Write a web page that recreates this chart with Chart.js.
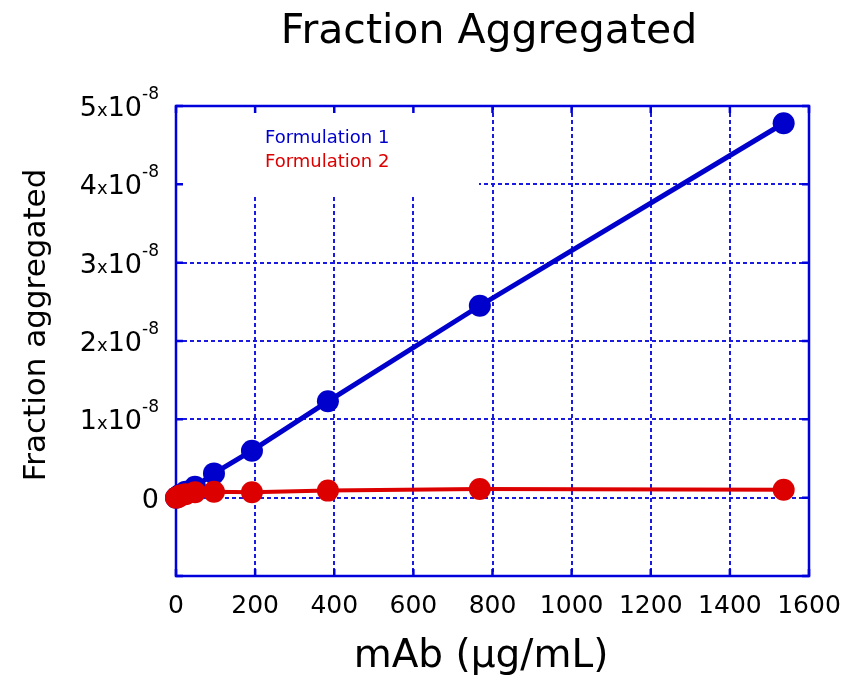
<!DOCTYPE html>
<html>
<head>
<meta charset="utf-8">
<title>Fraction Aggregated</title>
<script src="https://cdn.jsdelivr.net/npm/chart.js@4.4.1/dist/chart.umd.min.js"></script>
<style>
  html, body { margin: 0; padding: 0; background: #fff; }
  #wrap { width: 862px; height: 677px; }
</style>
</head>
<body>
<div id="wrap"><canvas id="fractionChart" width="862" height="677"></canvas></div>
<script>
// mAb concentration (µg/mL) and fraction aggregated
const mabConc = [0, 6, 12, 24, 48, 96, 192, 384, 768, 1536];
const formulation1 = [0, 0.02e-8, 0.04e-8, 0.075e-8, 0.14e-8, 0.31e-8, 0.60e-8, 1.23e-8, 2.45e-8, 4.78e-8];
const formulation2 = [0, 0.01e-8, 0.03e-8, 0.045e-8, 0.07e-8, 0.075e-8, 0.07e-8, 0.09e-8, 0.11e-8, 0.10e-8];
const seriesNames = ['Formulation 1', 'Formulation 2'];
const xRange = [0, 1600];
const yRange = [-1e-8, 5e-8];
const yExponent = -8;

const BLUE = '#0000cc';
const RED = '#dd0000';
const GRID = '#1a1ae0';
const FONT = "'DejaVu Sans', Verdana, sans-serif";

function toPoints(xs, ys) {
    return xs.map((x, i) => ({ x: x, y: ys[i] }));
}

// frame, inner ticks and the white box behind the legend text
const framePlugin = {
    id: 'frame',
    beforeDatasetsDraw(chart) {
        const ctx = chart.ctx;
        const a = chart.chartArea;
        const xs = chart.scales.x;
        const ys = chart.scales.y;
        ctx.save();
        ctx.fillStyle = '#fff';
        ctx.fillRect(a.left + 1, a.top + 1, 302, 87);

        ctx.strokeStyle = '#0000dd';
        ctx.lineWidth = 2.5;
        ctx.beginPath();
        xs.ticks.forEach(t => {
            const px = xs.getPixelForValue(t.value);
            ctx.moveTo(px, a.bottom); ctx.lineTo(px, a.bottom - 7);
            ctx.moveTo(px, a.top); ctx.lineTo(px, a.top + 7);
        });
        ys.ticks.forEach(t => {
            const py = ys.getPixelForValue(t.value);
            ctx.moveTo(a.left, py); ctx.lineTo(a.left + 7, py);
            ctx.moveTo(a.right, py); ctx.lineTo(a.right - 7, py);
        });
        ctx.stroke();
        ctx.strokeRect(a.left, a.top, a.right - a.left, a.bottom - a.top);
        ctx.restore();
    }
};

// title, axis titles, y tick labels with exponents, legend text
const textPlugin = {
    id: 'texts',
    afterDraw(chart) {
        const ctx = chart.ctx;
        const a = chart.chartArea;
        const ys = chart.scales.y;
        ctx.save();
        ctx.fillStyle = '#000';
        ctx.textBaseline = 'alphabetic';

        ctx.font = '41px ' + FONT;
        ctx.textAlign = 'center';
        ctx.fillText('Fraction Aggregated', 489, 43);

        ctx.font = '39px ' + FONT;
        ctx.fillText('mAb (µg/mL)', 481, 667);

        ctx.save();
        ctx.translate(45, 325);
        ctx.rotate(-Math.PI / 2);
        ctx.font = '31px ' + FONT;
        ctx.fillText('Fraction aggregated', 0, 0);
        ctx.restore();

        // y tick labels: "5x10^-8" style
        const right = a.left - 17;
        ys.ticks.forEach(t => {
            const k = Math.round(t.value / Math.pow(10, yExponent));
            if (k < 0) return;
            const py = ys.getPixelForValue(t.value);
            ctx.textAlign = 'left';
            if (k === 0) {
                ctx.font = '27px ' + FONT;
                const w = ctx.measureText('0').width;
                ctx.fillText('0', right - w, py + 10);
                return;
            }
            const parts = [
                { s: String(k), f: '27px ' + FONT, dy: 10 },
                { s: 'x', f: '18px ' + FONT, dy: 10 },
                { s: '10', f: '27px ' + FONT, dy: 10 },
                { s: String(yExponent), f: '17px ' + FONT, dy: -7 }
            ];
            let total = 0;
            parts.forEach(p => { ctx.font = p.f; p.w = ctx.measureText(p.s).width; total += p.w; });
            let x = right - total;
            parts.forEach(p => {
                ctx.font = p.f;
                ctx.fillText(p.s, x, py + p.dy);
                x += p.w;
            });
        });

        // legend text inside the plot
        ctx.textAlign = 'left';
        ctx.font = '18px ' + FONT;
        ctx.fillStyle = BLUE;
        ctx.fillText(seriesNames[0], a.left + 89, a.top + 37);
        ctx.fillStyle = RED;
        ctx.fillText(seriesNames[1], a.left + 89, a.top + 61);
        ctx.restore();
    }
};

const ctx = document.getElementById('fractionChart').getContext('2d');
new Chart(ctx, {
    type: 'line',
    data: {
        datasets: [{
            label: seriesNames[0],
            data: toPoints(mabConc, formulation1),
            borderColor: BLUE,
            backgroundColor: BLUE,
            borderWidth: 5,
            pointRadius: 11,
            pointBorderWidth: 0,
            pointHoverRadius: 11,
            clip: false,
            order: 2
        }, {
            label: seriesNames[1],
            data: toPoints(mabConc, formulation2),
            borderColor: RED,
            backgroundColor: RED,
            borderWidth: 4,
            pointRadius: 11,
            pointBorderWidth: 0,
            pointHoverRadius: 11,
            clip: false,
            order: 1
        }]
    },
    options: {
        responsive: false,
        devicePixelRatio: 1,
        animation: false,
        layout: { padding: { top: 106, right: 53, left: 0, bottom: 0 } },
        plugins: {
            legend: { display: false },
            title: { display: false },
            tooltip: { enabled: false }
        },
        scales: {
            x: {
                type: 'linear',
                min: xRange[0],
                max: xRange[1],
                afterFit: s => { s.height = 101; },
                ticks: {
                    stepSize: 200,
                    color: '#000',
                    padding: 15,
                    maxRotation: 0,
                    font: { family: FONT, size: 25 },
                    callback: v => String(v)
                },
                grid: { color: GRID, lineWidth: 2, drawTicks: false },
                border: { display: false, dash: [4, 3] }
            },
            y: {
                type: 'linear',
                min: yRange[0],
                max: yRange[1],
                afterFit: s => { s.width = 176; },
                ticks: { stepSize: 1e-8, display: false },
                grid: { color: GRID, lineWidth: 2, drawTicks: false },
                border: { display: false, dash: [4, 3] }
            }
        }
    },
    plugins: [framePlugin, textPlugin]
});
</script>
</body>
</html>
